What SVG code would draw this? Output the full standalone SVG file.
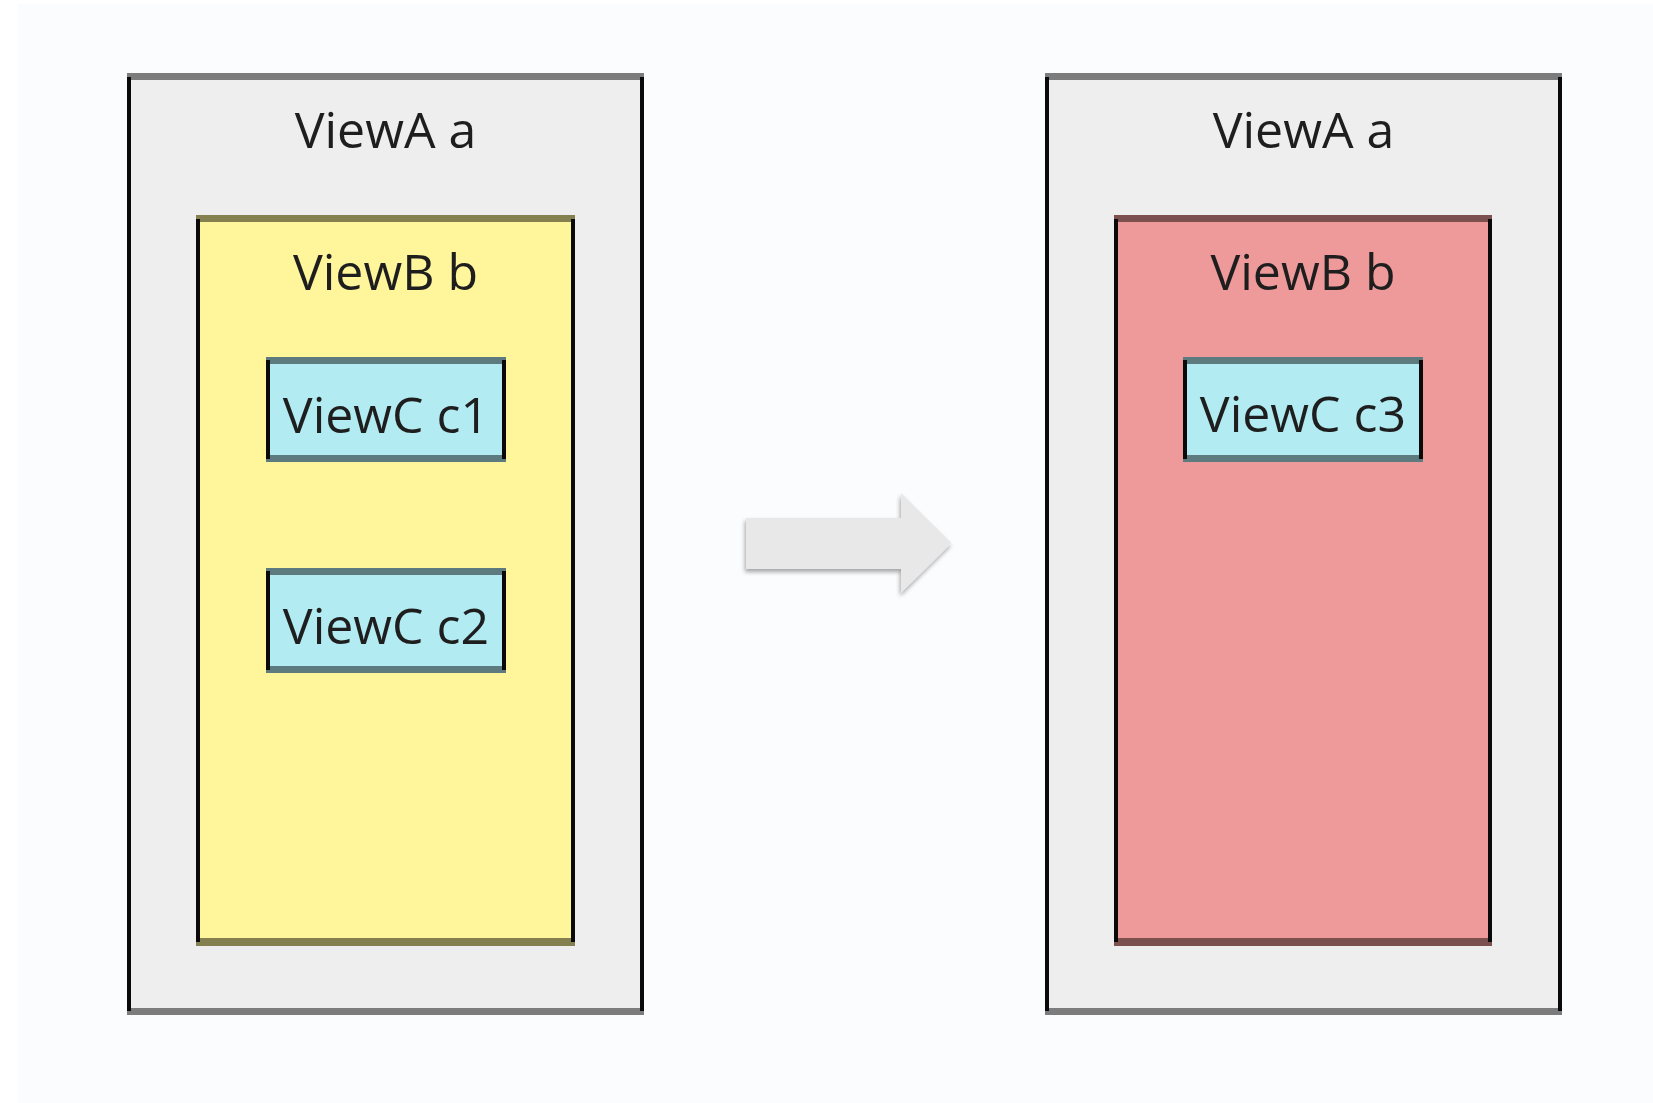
<svg xmlns="http://www.w3.org/2000/svg" width="1653" height="1103" viewBox="0 0 1653 1103">
  <style>
    .label { font-family: "Open Sans", "Noto Sans", "DejaVu Sans", sans-serif; font-size: 50px; fill: #1e1e1e; text-anchor: middle; }
    .side { fill: #0a0a0a; }
    .edge { fill: #000000; fill-opacity: 0.48; }
    .fill-a { fill: #eeeeee; }
    .fill-b-old { fill: #fff59a; }
    .fill-b-new { fill: #ef9a9a; }
    .fill-c { fill: #b2ebf2; }
    .arrow { fill: #e8e8e8; }
  </style>
  <defs>
    <filter id="soft-shadow" x="-10%" y="-20%" width="120%" height="150%">
      <feDropShadow dx="-1" dy="3" stdDeviation="2.2" flood-color="#000000" flood-opacity="0.35"/>
    </filter>
  </defs>

  <!-- page -->
  <rect x="0" y="0" width="1653" height="1103" fill="#ffffff"/>
  <rect x="18" y="4" width="1635" height="1099" fill="#fbfcfe"/>

  <!-- before: ViewA a containing ViewB b with two ViewC children -->
  <g id="viewA-left">
    <rect class="fill-a" x="127" y="73" width="517" height="942"/>
    <rect class="edge" x="127" y="73" width="517" height="7"/>
    <rect class="edge" x="127" y="1008" width="517" height="7"/>
    <rect class="side" x="127" y="77" width="4" height="934"/>
    <rect class="side" x="640" y="77" width="4" height="934"/>
    <text class="label" x="385.5" y="148">ViewA a</text>
  </g>
  <g id="viewB-left">
    <rect class="fill-b-old" x="196" y="215" width="379" height="731"/>
    <rect class="edge" x="196" y="215" width="379" height="7"/>
    <rect class="edge" x="196" y="938" width="379" height="8"/>
    <rect class="side" x="196" y="219" width="4" height="723"/>
    <rect class="side" x="571" y="219" width="4" height="723"/>
    <text class="label" x="385.5" y="290">ViewB b</text>
  </g>
  <g id="viewC-c1">
    <rect class="fill-c" x="266" y="357" width="240" height="105"/>
    <rect class="edge" x="266" y="357" width="240" height="7"/>
    <rect class="edge" x="266" y="455" width="240" height="7"/>
    <rect class="side" x="266" y="360" width="4" height="99"/>
    <rect class="side" x="502" y="360" width="4" height="99"/>
    <text class="label" x="386" y="433">ViewC c1</text>
  </g>
  <g id="viewC-c2">
    <rect class="fill-c" x="266" y="568" width="240" height="105"/>
    <rect class="edge" x="266" y="568" width="240" height="7"/>
    <rect class="edge" x="266" y="666" width="240" height="7"/>
    <rect class="side" x="266" y="571" width="4" height="99"/>
    <rect class="side" x="502" y="571" width="4" height="99"/>
    <text class="label" x="386" y="643.5">ViewC c2</text>
  </g>

  <!-- transition arrow -->
  <g id="connectors">
    <polygon class="arrow" filter="url(#soft-shadow)" points="746,518 901,518 901,493 951.5,543 901,593 901,569 746,569"/>
  </g>

  <!-- after: ViewB b now holds a single ViewC -->
  <g id="viewA-right">
    <rect class="fill-a" x="1045" y="73" width="517" height="942"/>
    <rect class="edge" x="1045" y="73" width="517" height="7"/>
    <rect class="edge" x="1045" y="1008" width="517" height="7"/>
    <rect class="side" x="1045" y="77" width="4" height="934"/>
    <rect class="side" x="1558" y="77" width="4" height="934"/>
    <text class="label" x="1303.5" y="148">ViewA a</text>
  </g>
  <g id="viewB-right">
    <rect class="fill-b-new" x="1114" y="215" width="378" height="731"/>
    <rect class="edge" x="1114" y="215" width="378" height="7"/>
    <rect class="edge" x="1114" y="938" width="378" height="8"/>
    <rect class="side" x="1114" y="219" width="4" height="723"/>
    <rect class="side" x="1488" y="219" width="4" height="723"/>
    <text class="label" x="1303" y="290">ViewB b</text>
  </g>
  <g id="viewC-c3">
    <rect class="fill-c" x="1183" y="357" width="240" height="105"/>
    <rect class="edge" x="1183" y="357" width="240" height="7"/>
    <rect class="edge" x="1183" y="455" width="240" height="7"/>
    <rect class="side" x="1183" y="360" width="4" height="99"/>
    <rect class="side" x="1419" y="360" width="4" height="99"/>
    <text class="label" x="1303" y="432">ViewC c3</text>
  </g>
</svg>
